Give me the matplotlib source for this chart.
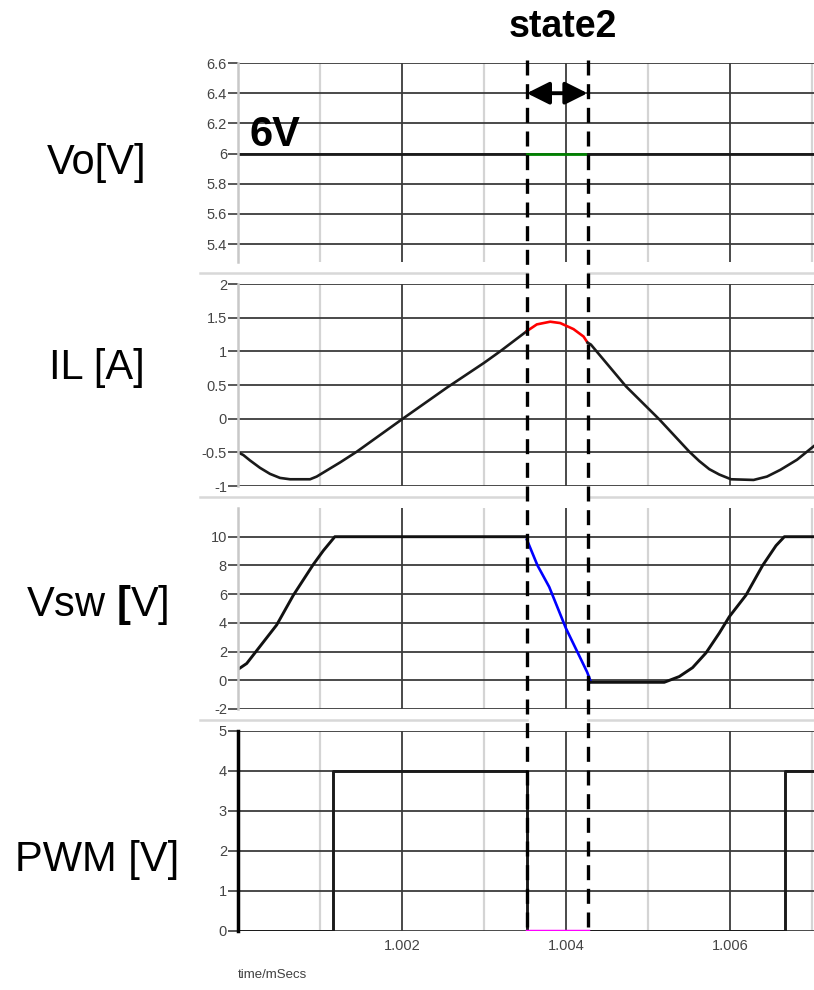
import matplotlib
matplotlib.use("Agg")
import matplotlib.pyplot as plt
from matplotlib.lines import Line2D
from matplotlib.transforms import blended_transform_factory

plt.rcParams["font.family"] = ["Liberation Sans", "DejaVu Sans"]
plt.rcParams["mathtext.fontset"] = "custom"
plt.rcParams["mathtext.rm"] = "Liberation Sans"
plt.rcParams["mathtext.bf"] = "Liberation Sans:bold"

# time axis in mSecs
t_start, t_end = 1.000, 1.00702
state2 = (1.00352, 1.00426)

# output voltage
vo_level = 6.0

# inductor current
il_pre_t = [1.0000, 1.000065, 1.000146, 1.000268, 1.000390, 1.000512, 1.000634,
            1.000878, 1.000959, 1.001081, 1.001244, 1.001448, 1.002009,
            1.002545, 1.003000, 1.003195, 1.00352]
il_pre_v = [-0.50, -0.54, -0.62, -0.73, -0.82, -0.88, -0.90,
            -0.90, -0.86, -0.77, -0.65, -0.49, 0.00,
            0.46, 0.83, 1.00, 1.30]
il_s2_t = [1.00352, 1.003642, 1.003805, 1.003927, 1.004089, 1.004211, 1.00426]
il_s2_v = [1.30, 1.40, 1.44, 1.42, 1.33, 1.22, 1.13]
il_post_t = [1.00426, 1.004301, 1.004728, 1.005134, 1.005500, 1.005622, 1.005744,
             1.005866, 1.006009, 1.006284, 1.006447, 1.006610, 1.006813, 1.007016]
il_post_v = [1.13, 1.10, 0.48, -0.01, -0.49, -0.63, -0.75,
             -0.83, -0.90, -0.91, -0.86, -0.76, -0.61, -0.41]

# switch node voltage
vsw_pre_t = [1.000000, 1.000106, 1.000472, 1.000675, 1.000918, 1.001040, 1.001180, 1.00352]
vsw_pre_v = [0.76, 1.17, 3.86, 5.93, 8.07, 9.03, 10.0, 10.0]
vsw_s2_t = [1.00352, 1.003650, 1.003793, 1.003996, 1.004255, 1.004300]
vsw_s2_v = [9.8, 8.0, 6.5, 3.63, 0.57, -0.10]
vsw_post_t = [1.004300, 1.005195, 1.005378, 1.005540, 1.005704, 1.005866,
              1.005988, 1.006191, 1.006394, 1.006557, 1.006659, 1.007020]
vsw_post_v = [-0.14, -0.14, 0.26, 0.88, 1.91, 3.29, 4.43, 5.93, 8.0, 9.38, 10.0, 10.0]

# gate drive
pwm_t = [1.000, 1.00116, 1.00116, 1.00352, 1.00352, 1.00667, 1.00667, 1.00702]
pwm_v = [0, 0, 4, 4, 0, 0, 4, 4]

labels = ["Vo[V]", "IL [A]", r"Vsw $\mathbf{[}$V]", "PWM [V]"]
yticks = [[5.4, 5.6, 5.8, 6, 6.2, 6.4, 6.6],
          [-1, -0.5, 0, 0.5, 1, 1.5, 2],
          [-2, 0, 2, 4, 6, 8, 10],
          [0, 1, 2, 3, 4, 5]]
ytick_labels = [["5.4", "5.6", "5.8", "6", "6.2", "6.4", "6.6"],
                ["-1", "-0.5", "0", "0.5", "1", "1.5", "2"],
                ["-2", "0", "2", "4", "6", "8", "10"],
                ["0", "1", "2", "3", "4", "5"]]
ylims = [(5.282, 6.6), (-1, 2), (-2, 12), (0, 5)]

W, H = 814, 990
fig = plt.figure(figsize=(W / 100, H / 100), dpi=100)

# panel boxes in pixels: (top, bottom)
boxes = [(63, 262), (284, 486), (508, 709), (731, 931)]
label_y = [163, 368, 605, 860]
left_px = 238

grid_dark = "#3c3c3c"
axes = []
for i, (top, bot) in enumerate(boxes):
    ax = fig.add_axes([left_px / W, 1 - bot / H, 1 - left_px / W, (bot - top) / H])
    ax.set_xlim(t_start, t_end)
    ax.set_ylim(*ylims[i])
    for s in ax.spines.values():
        s.set_visible(False)
    ax.spines["left"].set_visible(True)
    ax.spines["left"].set_color("#c8c8c8")
    ax.spines["left"].set_linewidth(1.8)
    ax.set_yticks(yticks[i])
    ax.set_yticklabels(ytick_labels[i])
    ax.set_xticks([1.002, 1.004, 1.006])
    ax.set_xticks([1.001, 1.003, 1.005, 1.007], minor=True)
    ax.grid(True, which="major", color=grid_dark, lw=1.3)
    ax.grid(True, which="minor", axis="x", color="#d4d4d4", lw=1.6)
    ax.tick_params(axis="y", length=7, width=1.2, color=grid_dark,
                   labelsize=10.5, labelcolor="#444444", pad=1)
    ax.tick_params(axis="x", which="both", length=0, labelbottom=(i == 3),
                   labelsize=10.5, labelcolor="#444444", pad=6)
    ax.set_axisbelow(True)
    fig.text(97 / W, 1 - label_y[i] / H, labels[i], fontsize=30,
             ha="center", va="center")
    axes.append(ax)

ax1, ax2, ax3, ax4 = axes

# Vo
ax1.plot([t_start, state2[0]], [vo_level, vo_level], color="#1a1a1a", lw=2)
ax1.plot(list(state2), [vo_level, vo_level], color="#008000", lw=2)
ax1.plot([state2[1], t_end], [vo_level, vo_level], color="#1a1a1a", lw=2)
ax1.text(1.000146, 6.05, "6V", fontsize=30, fontweight="bold", va="baseline")
ax1.annotate("", xy=(state2[0], 6.4), xytext=(state2[1], 6.4),
             arrowprops=dict(arrowstyle="<|-|>", color="black", lw=2.8,
                             mutation_scale=34, shrinkA=0, shrinkB=0))

# IL
ax2.plot(il_pre_t, il_pre_v, color="#1a1a1a", lw=1.9)
ax2.plot(il_s2_t, il_s2_v, color="#ff0000", lw=1.9)
ax2.plot(il_post_t, il_post_v, color="#1a1a1a", lw=1.9)

# Vsw
ax3.plot(vsw_pre_t, vsw_pre_v, color="#111111", lw=2.1)
ax3.plot(vsw_s2_t, vsw_s2_v, color="#0000ff", lw=1.9)
ax3.plot(vsw_post_t, vsw_post_v, color="#111111", lw=2.1)

# PWM
ax4.spines["left"].set_color("black")
ax4.spines["left"].set_linewidth(2.5)
ax4.plot(pwm_t, pwm_v, color="#1a1a1a", lw=2.1)
ax4.plot(list(state2), [0, 0], color="#ff00ff", lw=2.5, zorder=5)

# separators between panels, broken inside the state2 window
trans = blended_transform_factory(ax4.transData, fig.transFigure)
x_sep0 = t_start - (left_px - 200) / 82000
for ypx in [273, 497, 720]:
    yf = 1 - ypx / H
    for xa, xb in [(x_sep0, state2[0]), (state2[1], t_end)]:
        fig.add_artist(Line2D([xa, xb], [yf, yf], transform=trans,
                              color="#d8d8d8", lw=1.8))

# state2 window markers
for xt in state2:
    fig.add_artist(Line2D([xt, xt], [1 - 60 / H, 1 - 933 / H], transform=trans,
                          color="black", lw=2.4, linestyle=(0, (4.5, 2.6)),
                          zorder=10))

fig.text(563 / W, 1 - 27 / H, "state2", fontsize=27, fontweight="bold",
         ha="center", va="center")
fig.text(left_px / W, 1 - 975 / H, "time/mSecs", fontsize=9.5,
         color="#404040", va="center")

fig.savefig("out.png", dpi=100)
